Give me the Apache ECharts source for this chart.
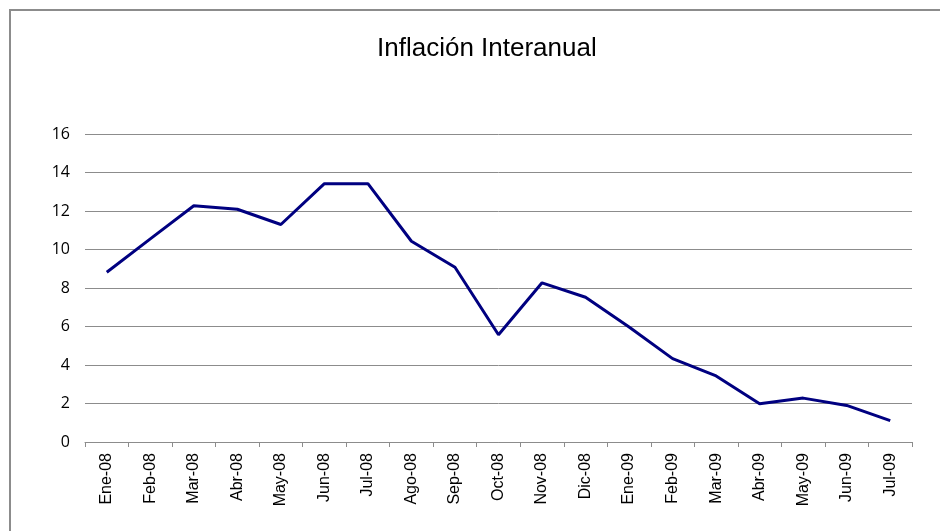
<!DOCTYPE html>
<html>
<head>
<meta charset="utf-8">
<script src="https://cdn.jsdelivr.net/npm/echarts@6/dist/echarts.min.js"></script>
<style>
  html, body { margin: 0; padding: 0; background: #fff; }
  #chart { width: 940px; height: 531px; }
</style>
</head>
<body>
<div id="chart"></div>
<script>
// categorías (meses)
var meses = ['Ene-08', 'Feb-08', 'Mar-08', 'Abr-08', 'May-08', 'Jun-08', 'Jul-08', 'Ago-08', 'Sep-08',
    'Oct-08', 'Nov-08', 'Dic-08', 'Ene-09', 'Feb-09', 'Mar-09', 'Abr-09', 'May-09', 'Jun-09', 'Jul-09'];

// inflación interanual (%)
var inflacion = [8.82, 10.55, 12.27, 12.09, 11.3, 13.42, 13.42, 10.43, 9.08,
    5.57, 8.27, 7.52, 5.97, 4.33, 3.43, 1.99, 2.28, 1.9, 1.11];

var myChart = echarts.init(document.getElementById('chart'));

var option = {
    animation: false,
    backgroundColor: '#fff',
    title: {
        text: 'Inflación Interanual',
        left: 372,
        top: 31,
        textStyle: {
            fontFamily: 'Liberation Sans, Arial, sans-serif',
            fontWeight: 'normal',
            fontSize: 26,
            color: '#000'
        }
    },
    // marco exterior
    graphic: [{
        type: 'rect',
        shape: { x: 10, y: 10, width: 960, height: 560 },
        style: { fill: 'none', stroke: '#8c8c8c', lineWidth: 2 },
        silent: true
    }],
    grid: {
        left: 85,
        right: 28,
        top: 134,
        bottom: 89
    },
    xAxis: {
        type: 'category',
        data: meses,
        boundaryGap: true,
        axisLine: { lineStyle: { color: '#8c8c8c', width: 1 } },
        axisTick: { show: true, length: 5, inside: false, lineStyle: { color: '#8c8c8c' } },
        axisLabel: {
            rotate: 90,
            interval: 0,
            margin: 11,
            fontFamily: 'Liberation Sans, Arial, sans-serif',
            fontSize: 16,
            color: '#000'
        }
    },
    yAxis: {
        type: 'value',
        min: 0,
        max: 16,
        interval: 2,
        axisLine: { show: false },
        axisTick: { show: false },
        axisLabel: {
            margin: 15,
            fontFamily: 'Open Sans, sans-serif',
            fontSize: 16,
            color: '#000'
        },
        splitLine: { lineStyle: { color: '#8c8c8c', width: 1 } }
    },
    series: [{
        name: 'Inflación',
        type: 'line',
        data: inflacion,
        symbol: 'none',
        lineStyle: { color: '#000080', width: 3 }
    }]
};

myChart.setOption(option);
window.addEventListener('resize', function () {
    myChart.resize();
});
</script>
</body>
</html>
